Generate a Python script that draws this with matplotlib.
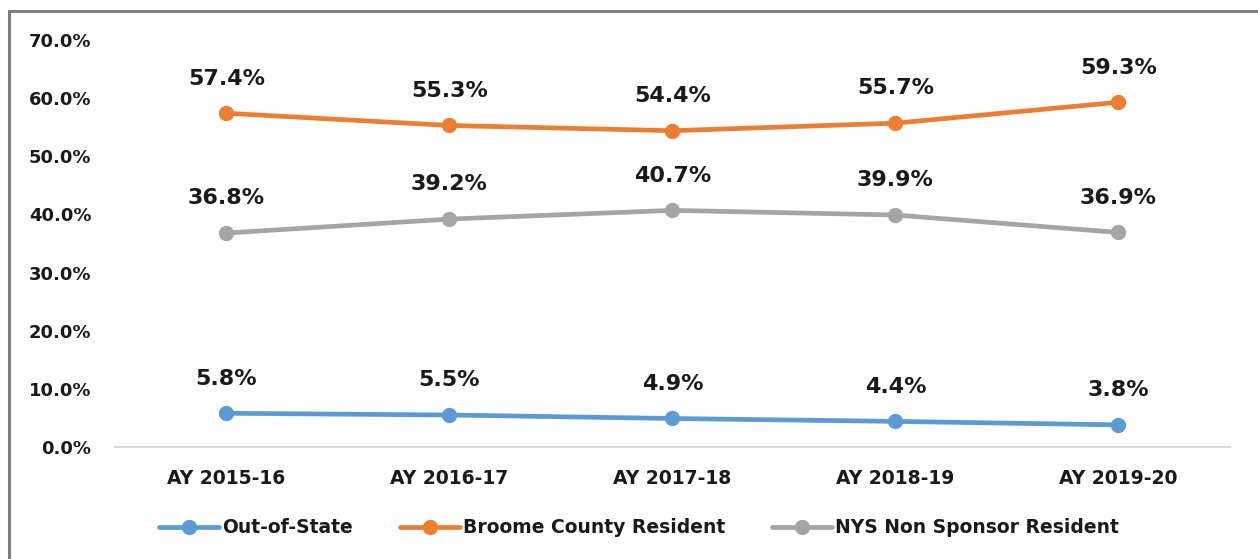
import matplotlib.pyplot as plt
from matplotlib.patches import Rectangle

years = ["AY 2015-16", "AY 2016-17", "AY 2017-18", "AY 2018-19", "AY 2019-20"]
out_of_state = [5.8, 5.5, 4.9, 4.4, 3.8]
broome = [57.4, 55.3, 54.4, 55.7, 59.3]
nys_non_sponsor = [36.8, 39.2, 40.7, 39.9, 36.9]

series = [
    ("Out-of-State", out_of_state, "#5B9BD5"),
    ("Broome County Resident", broome, "#ED7D31"),
    ("NYS Non Sponsor Resident", nys_non_sponsor, "#A5A5A5"),
]

fig = plt.figure(figsize=(12.58, 5.59), dpi=100)
ax = fig.add_axes([0.0914, 0.2004, 0.8863, 0.728])

x = range(len(years))
for name, vals, color in series:
    ax.plot(x, vals, "-o", color=color, lw=3.4, ms=10, label=name,
            solid_capstyle="round")
    for xi, v in zip(x, vals):
        ax.annotate(f"{v:.1f}%", (xi, v), xytext=(0, 25), textcoords="offset points",
                    ha="center", va="center", fontsize=16, fontweight="bold",
                    color="#1a1a1a")

ax.set_xlim(-0.5, len(years) - 0.5)
ax.set_ylim(0, 70)
ax.set_yticks(range(0, 71, 10))
ax.set_yticklabels([f"{t:.1f}%" for t in range(0, 71, 10)])
ax.set_xticks(list(x))
ax.set_xticklabels(years)
ax.tick_params(axis="y", length=0, pad=17, labelsize=13)
ax.tick_params(axis="x", length=0, pad=16, labelsize=13.5)
for lab in ax.get_xticklabels() + ax.get_yticklabels():
    lab.set_fontweight("bold")
    lab.set_color("#1a1a1a")

for side in ["top", "right", "left"]:
    ax.spines[side].set_visible(False)
ax.spines["bottom"].set_color("#D9D9D9")
ax.spines["bottom"].set_linewidth(1.5)

leg = ax.legend(loc="center", bbox_to_anchor=(0.47, -0.199), ncol=3,
                frameon=False, handlelength=3.2, columnspacing=2.5,
                handletextpad=0.15, prop={"weight": "bold", "size": 13.5})
for t in leg.get_texts():
    t.set_color("#1a1a1a")

border = Rectangle((8.5 / 1258, -0.1), 1.2, 1.1 - 11.5 / 559,
                   transform=fig.transFigure, fill=False, edgecolor="#808080",
                   lw=2.2, clip_on=False)
fig.patches.append(border)

fig.savefig("out.png", dpi=100)
